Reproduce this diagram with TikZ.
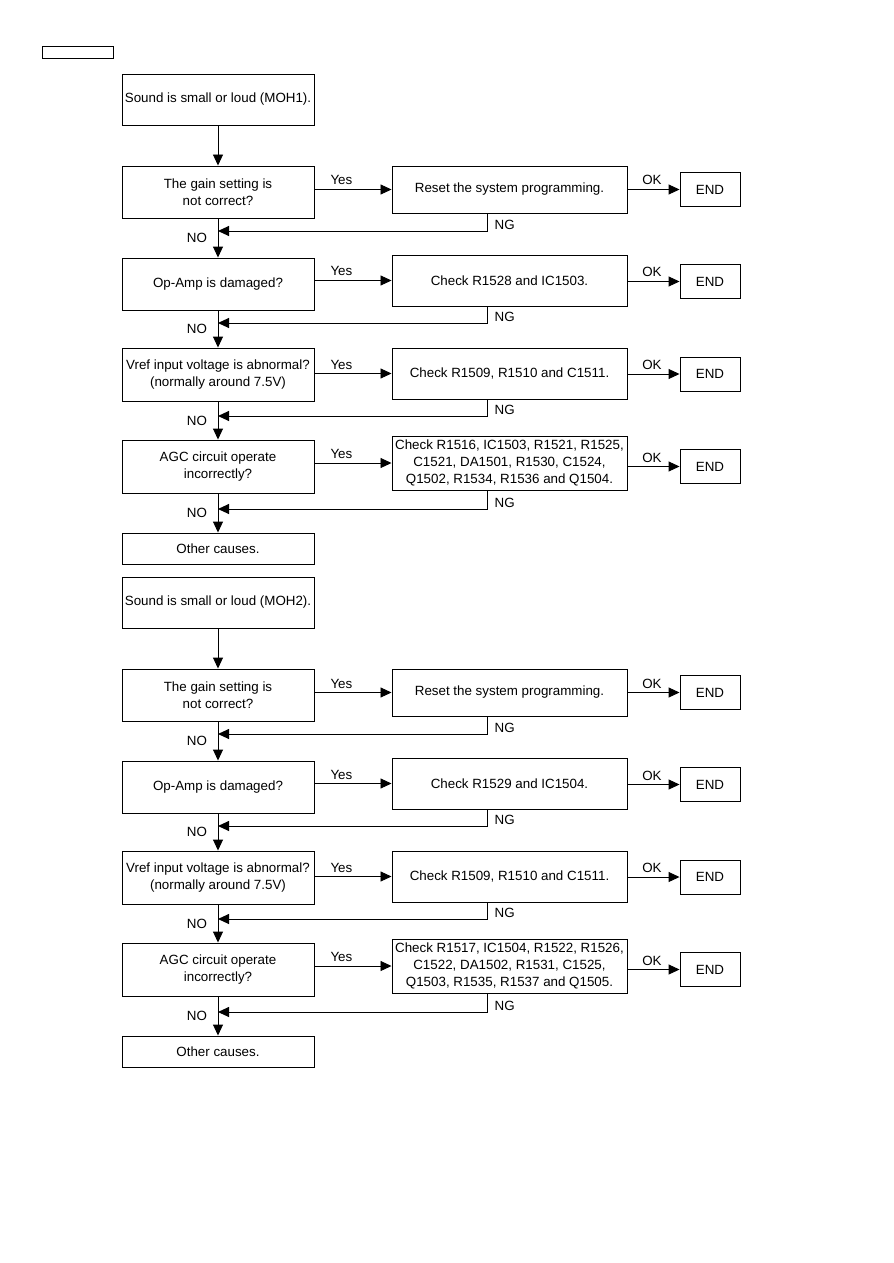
\documentclass[tikz,border=0pt]{standalone}
\usepackage{fontspec}
\setmainfont{Liberation Sans}
\usetikzlibrary{arrows.meta,calc}
\newcommand{\flowfont}{\fontsize{11.4}{14.4}\selectfont}
\tikzset{
  qbox/.style={draw=black,line width=0.8pt,minimum width=5.76cm,
               minimum height=1.56cm,align=center,inner sep=1pt,font=\flowfont},
  abox/.style={draw=black,line width=0.8pt,minimum width=7.05cm,
               minimum height=1.53cm,align=center,inner sep=1pt,font=\flowfont},
  endbox/.style={draw=black,line width=0.8pt,minimum width=1.8cm,
                 minimum height=1.02cm,inner sep=1pt,font=\flowfont},
  flowarr/.style={-{Triangle[length=0.33cm,width=0.3cm]},line width=0.8pt},
  yeslbl/.style={above,pos=0.35,font=\flowfont},
  oklbl/.style={above,pos=0.47,font=\flowfont},
  nolbl/.style={left=0.2cm,pos=0.5,font=\flowfont},
  nglbl/.style={right=0.1cm,pos=0.65,font=\flowfont}
}
\begin{document}
\begin{tikzpicture}[x=0.03cm,y=-0.03cm]
    \path[use as bounding box] (0,0) rectangle (893,1263);

    \node[draw=black,line width=0.8pt,minimum width=2.13cm,minimum height=0.36cm,
          inner sep=0pt] (hdr) at (77.5,52) {};

    % MOH1
    \node[qbox,minimum height=1.53cm] (start1) at (218,99.5)
      {Sound is small or loud (MOH1).};
    \node[qbox] (q11) at (218,192) {The gain setting is\\not correct?};
    \node[abox,minimum height=1.41cm] (a11) at (509.5,189.5)
      {Reset the system programming.};
    \node[endbox] (e11) at (710,189.5) {END};
    \node[qbox] (q12) at (218,284) {Op-Amp is damaged?};
    \node[abox] (a12) at (509.5,280.5) {Check R1528 and IC1503.};
    \node[endbox] (e12) at (710,281.5) {END};
    \node[qbox,minimum height=1.59cm] (q13) at (218,374.5)
      {Vref input voltage is abnormal?\\(normally around 7.5V)};
    \node[abox] (a13) at (509.5,373.5) {Check R1509, R1510 and C1511.};
    \node[endbox] (e13) at (710,374) {END};
    \node[qbox,minimum height=1.59cm] (q14) at (218,466.5)
      {AGC circuit operate\\incorrectly?};
    \node[abox,minimum height=1.62cm] (a14) at (509.5,463)
      {Check R1516, IC1503, R1521, R1525,\\C1521, DA1501, R1530, C1524,\\
       Q1502, R1534, R1536 and Q1504.};
    \node[endbox] (e14) at (710,466.5) {END};
    \node[qbox,minimum height=0.93cm] (o1) at (218,548.5) {Other causes.};

    \coordinate (n11) at (487,231);
    \coordinate (n12) at (487,323);
    \coordinate (n13) at (487,416);
    \coordinate (n14) at (487,509);

    \draw[flowarr] (start1) -- (q11);
    \draw[flowarr] (q11) -- node[nolbl] {NO} (q12);
    \draw[flowarr] (q12) -- node[nolbl] {NO} (q13);
    \draw[flowarr] (q13) -- node[nolbl] {NO} (q14);
    \draw[flowarr] (q14) -- node[nolbl] {NO} (o1);
    \draw[flowarr] (q11.east |- a11) -- node[yeslbl] {Yes} (a11.west);
    \draw[flowarr] (q12.east |- a12) -- node[yeslbl] {Yes} (a12.west);
    \draw[flowarr] (q13.east |- a13) -- node[yeslbl] {Yes} (a13.west);
    \draw[flowarr] (q14.east |- a14) -- node[yeslbl] {Yes} (a14.west);
    \draw[flowarr] (a11.east |- e11) -- node[oklbl] {OK} (e11.west);
    \draw[flowarr] (a12.east |- e12) -- node[oklbl] {OK} (e12.west);
    \draw[flowarr] (a13.east |- e13) -- node[oklbl] {OK} (e13.west);
    \draw[flowarr] (a14.east |- e14) -- node[oklbl] {OK} (e14.west);
    \draw[flowarr] (a11.south -| n11) -- node[nglbl] {NG} (n11) -- (n11 -| q11);
    \draw[flowarr] (a12.south -| n12) -- node[nglbl] {NG} (n12) -- (n12 -| q12);
    \draw[flowarr] (a13.south -| n13) -- node[nglbl] {NG} (n13) -- (n13 -| q13);
    \draw[flowarr] (a14.south -| n14) -- node[nglbl] {NG} (n14) -- (n14 -| q14);

    % MOH2
    \node[qbox,minimum height=1.53cm] (start2) at (218,602.5)
      {Sound is small or loud (MOH2).};
    \node[qbox] (q21) at (218,695) {The gain setting is\\not correct?};
    \node[abox,minimum height=1.41cm] (a21) at (509.5,692.5)
      {Reset the system programming.};
    \node[endbox] (e21) at (710,692.5) {END};
    \node[qbox] (q22) at (218,787) {Op-Amp is damaged?};
    \node[abox] (a22) at (509.5,783.5) {Check R1529 and IC1504.};
    \node[endbox] (e22) at (710,784.5) {END};
    \node[qbox,minimum height=1.59cm] (q23) at (218,877.5)
      {Vref input voltage is abnormal?\\(normally around 7.5V)};
    \node[abox] (a23) at (509.5,876.5) {Check R1509, R1510 and C1511.};
    \node[endbox] (e23) at (710,877) {END};
    \node[qbox,minimum height=1.59cm] (q24) at (218,969.5)
      {AGC circuit operate\\incorrectly?};
    \node[abox,minimum height=1.62cm] (a24) at (509.5,966)
      {Check R1517, IC1504, R1522, R1526,\\C1522, DA1502, R1531, C1525,\\
       Q1503, R1535, R1537 and Q1505.};
    \node[endbox] (e24) at (710,969.5) {END};
    \node[qbox,minimum height=0.93cm] (o2) at (218,1051.5) {Other causes.};

    \coordinate (n21) at (487,734);
    \coordinate (n22) at (487,826);
    \coordinate (n23) at (487,919);
    \coordinate (n24) at (487,1012);

    \draw[flowarr] (start2) -- (q21);
    \draw[flowarr] (q21) -- node[nolbl] {NO} (q22);
    \draw[flowarr] (q22) -- node[nolbl] {NO} (q23);
    \draw[flowarr] (q23) -- node[nolbl] {NO} (q24);
    \draw[flowarr] (q24) -- node[nolbl] {NO} (o2);
    \draw[flowarr] (q21.east |- a21) -- node[yeslbl] {Yes} (a21.west);
    \draw[flowarr] (q22.east |- a22) -- node[yeslbl] {Yes} (a22.west);
    \draw[flowarr] (q23.east |- a23) -- node[yeslbl] {Yes} (a23.west);
    \draw[flowarr] (q24.east |- a24) -- node[yeslbl] {Yes} (a24.west);
    \draw[flowarr] (a21.east |- e21) -- node[oklbl] {OK} (e21.west);
    \draw[flowarr] (a22.east |- e22) -- node[oklbl] {OK} (e22.west);
    \draw[flowarr] (a23.east |- e23) -- node[oklbl] {OK} (e23.west);
    \draw[flowarr] (a24.east |- e24) -- node[oklbl] {OK} (e24.west);
    \draw[flowarr] (a21.south -| n21) -- node[nglbl] {NG} (n21) -- (n21 -| q21);
    \draw[flowarr] (a22.south -| n22) -- node[nglbl] {NG} (n22) -- (n22 -| q22);
    \draw[flowarr] (a23.south -| n23) -- node[nglbl] {NG} (n23) -- (n23 -| q23);
    \draw[flowarr] (a24.south -| n24) -- node[nglbl] {NG} (n24) -- (n24 -| q24);
\end{tikzpicture}
\end{document}
